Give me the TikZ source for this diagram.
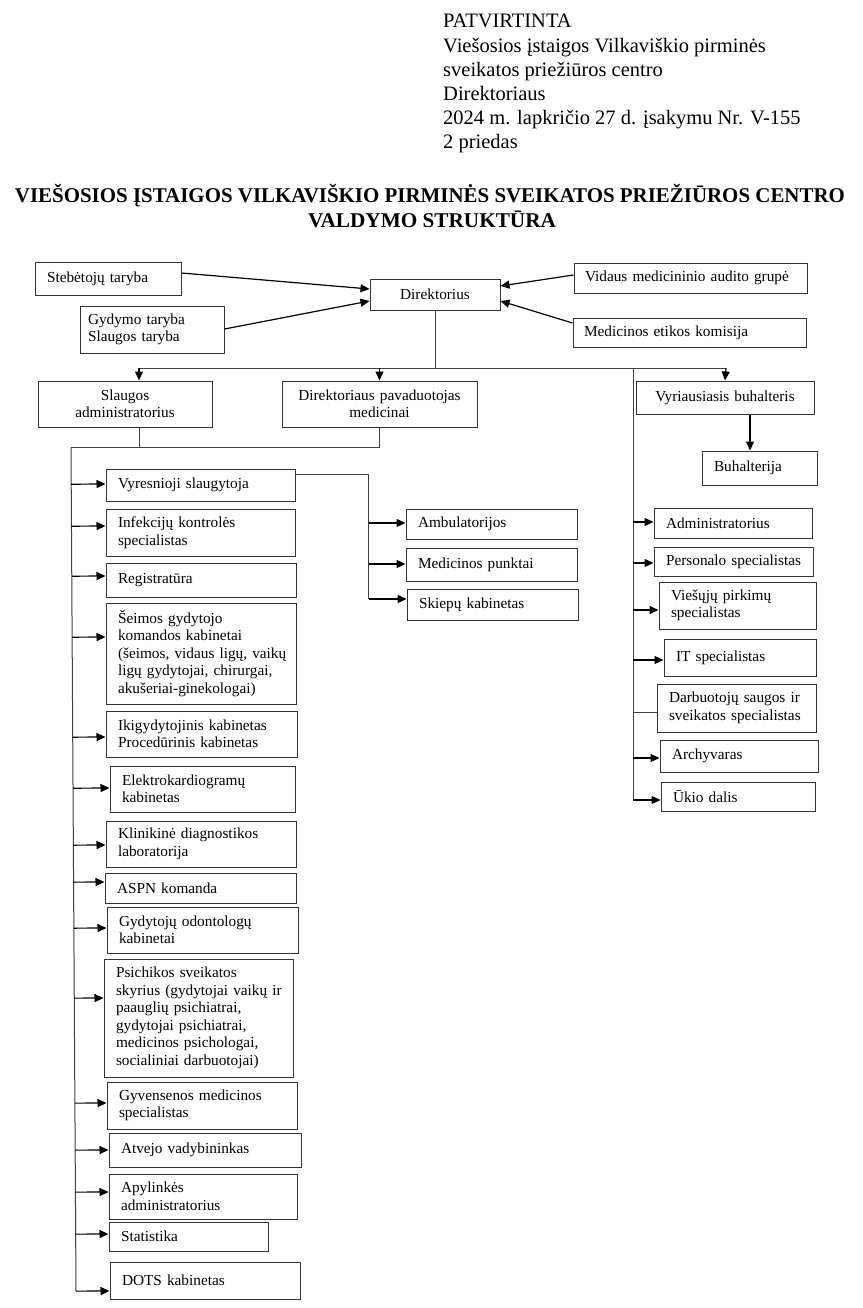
\documentclass[tikz,border=0pt]{standalone}
\usepackage{fontspec}
\usepackage{graphicx}
\setmainfont{Liberation Serif}
\usetikzlibrary{arrows.meta,calc}
\newcommand\boxfont{\fontsize{15.3}{17.5}\selectfont}
\newcommand\hdrfont{\fontsize{20.5}{24}\selectfont}
\newcommand\ttlfont{\bfseries\fontsize{21}{25}\selectfont}
% left-aligned box: [pad]{name}{x1}{y1}{x2}{y2}{text}
\newcommand\lbox[7][12]{%
  \pgfmathsetmacro\obw{#5-#3}\pgfmathsetmacro\obh{#6-#4}%
  \pgfmathsetmacro\obx{(#3+#5)/2}\pgfmathsetmacro\oby{(#4+#6)/2}%
  \def\obpad{#1}%
  \node[box, align=left, minimum width=\obw pt, minimum height=\obh pt,
        text width=\obw pt] (#2) at (\obx,\oby) {\leftskip=\obpad pt\relax #7\par};}
% centred box: {name}{x1}{y1}{x2}{y2}{text}
\newcommand\cbox[6]{%
  \pgfmathsetmacro\obw{#4-#2}\pgfmathsetmacro\obh{#5-#3}%
  \pgfmathsetmacro\obx{(#2+#4)/2}\pgfmathsetmacro\oby{(#3+#5)/2}%
  \node[box, align=center, minimum width=\obw pt, minimum height=\obh pt,
        text width=\obw pt] (#1) at (\obx,\oby) {#6};}
\begin{document}
\begin{tikzpicture}[x=1pt,y=-1pt,
  box/.style={draw=black!80, line width=1pt, inner xsep=0pt, inner ysep=0pt, font=\boxfont},
  hdr/.style={font=\hdrfont, inner sep=0pt, anchor=base west},
  ttl/.style={font=\ttlfont, inner sep=0pt, anchor=base},
  con/.style={draw=black!75, line width=1pt},
  arr/.style={draw=black, line width=1.2pt, -{Triangle[length=9pt,width=8pt]}}]
\fill[white] (0,0) rectangle (862,1308);
\useasboundingbox (0,0) rectangle (862,1308);

% header
\node[hdr] (h1) at (443,28) {PATVIRTINTA};
\node[hdr] (h2) at (443,52.2) {Viešosios įstaigos Vilkaviškio pirminės};
\node[hdr] (h3) at (443,76.4) {sveikatos priežiūros centro};
\node[hdr] (h4) at (443,100.6) {Direktoriaus};
\node[hdr] (h5) at (443,124.8) {2024 m. lapkričio 27 d. įsakymu Nr. V-155};
\node[hdr] (h6) at (443,149) {2 priedas};

% title
\node[ttl] (t1) at (430,202) {\resizebox{830pt}{\height}{VIEŠOSIOS ĮSTAIGOS VILKAVIŠKIO PIRMINĖS SVEIKATOS PRIEŽIŪROS CENTRO}};
\node[ttl] (t2) at (432,228) {\resizebox{248pt}{\height}{VALDYMO STRUKTŪRA}};

% top boxes
\lbox{steb}{35}{262}{181}{295}{Stebėtojų taryba}
\cbox{dir}{370}{279}{500}{310}{Direktorius}
\lbox[11]{vid}{574}{263}{807}{293}{Vidaus medicininio audito grupė}
\lbox[8]{gyd}{80}{306}{224}{353}{Gydymo taryba\\Slaugos taryba}
\lbox[11]{met}{573}{318}{806}{347}{Medicinos etikos komisija}

% second level
\cbox{sla}{38}{381}{212}{427}{Slaugos\\administratorius}
\cbox{pav}{282}{381}{477}{427}{Direktoriaus pavaduotojas\\medicinai}
\cbox{vyr}{636}{381}{814}{414}{Vyriausiasis buhalteris}
\lbox{buh}{702}{451}{817}{485}{Buhalterija}

% left column
\lbox{l1}{106}{469}{295}{501}{Vyresnioji slaugytoja}
\lbox{l2}{106}{509}{295}{556}{Infekcijų kontrolės\\specialistas}
\lbox{l3}{106}{563}{296}{597}{Registratūra}
\lbox{l4}{106}{603}{296}{704}{Šeimos gydytojo\\komandos kabinetai\\(šeimos, vidaus ligų, vaikų\\ligų gydytojai, chirurgai,\\akušeriai-ginekologai)}
\lbox{l5}{106}{711}{297}{757}{Ikigydytojinis kabinetas\\Procedūrinis kabinetas}
\lbox{l6}{110}{766}{295}{812}{Elektrokardiogramų\\kabinetas}
\lbox{l7}{106}{821}{296}{867}{Klinikinė diagnostikos\\laboratorija}
\lbox{l8}{105}{873}{296}{903}{ASPN komanda}
\lbox{l9}{107}{907}{298}{953}{Gydytojų odontologų\\kabinetai}
\lbox{l10}{104}{959}{293}{1077}{Psichikos sveikatos\\skyrius (gydytojai vaikų ir\\paauglių psichiatrai,\\gydytojai psichiatrai,\\medicinos psichologai,\\socialiniai darbuotojai)}
\lbox{l11}{107}{1082}{297}{1129}{Gyvensenos medicinos\\specialistas}
\lbox{l12}{109}{1133}{301}{1167}{Atvejo vadybininkas}
\lbox{l13}{109}{1174}{297}{1219}{Apylinkės\\administratorius}
\lbox{l14}{109}{1222}{268}{1251}{Statistika}
\lbox{l15}{110}{1262}{300}{1299}{DOTS kabinetas}

% middle column
\lbox{m1}{406}{509}{577}{539}{Ambulatorijos}
\lbox{m2}{406}{548}{577}{581}{Medicinos punktai}
\lbox{m3}{407}{589}{578}{620}{Skiepų kabinetas}

% right column
\lbox{r1}{654}{508}{812}{538}{Administratorius}
\lbox{r2}{654}{547}{813}{576}{Personalo specialistas}
\lbox{r3}{659}{582}{816}{629}{Viešųjų pirkimų\\specialistas}
\lbox{r4}{664}{639}{816}{676}{IT specialistas}
\lbox{r5}{657}{684}{816}{732}{Darbuotojų saugos ir\\sveikatos specialistas}
\lbox{r6}{660}{740}{818}{772}{Archyvaras}
\lbox{r7}{661}{782}{815}{811}{Ūkio dalis}

% top connectors
\draw[arr] (steb.east |- 0,273) -- (dir.west |- 0,289);
\draw[arr] (gyd.east |- 0,329) -- (dir.west |- 0,301);
\draw[arr] (vid.west |- 0,275) -- (dir.east |- 0,286);
\draw[arr] (met.west |- 0,323) -- (dir.east |- 0,301);

\coordinate (hl) at (139,368);
\coordinate (hr) at (726,368);
\coordinate (rs) at (633,368);
\draw[con] (dir.south) -- (dir.south |- hl);
\draw[con] (hl) -- (hr);
\draw[arr] (hl) -- (hl |- sla.north);
\draw[arr] (pav.north |- hl) -- (pav.north);
\draw[arr] (hr) -- (vyr.north);
\draw[arr] (vyr.south -| 750,0) -- (buh.north -| 750,0);

% right spine
\draw[con] (rs) -- (rs |- 0,800);
\foreach \n/\y in {r1/522,r2/563,r3/610,r4/660,r6/758,r7/800}
  \draw[arr] (rs |- 0,\y) -- (\n.west |- 0,\y);
\draw[con] (rs |- 0,712) -- (r5.west |- 0,712);

% left spine
\coordinate (sTop) at (71,447);
\coordinate (sBot) at (76,1291);
\draw[con] (sla.south -| hl) -- (hl |- sTop);
\draw[con] (pav.south) -- (pav.south |- sTop);
\draw[con] (sTop) -- (pav.south |- sTop);
\draw[con] (sTop) -- (sBot);
\foreach \n/\y in {l1/484,l2/526,l3/576,l4/637,l5/737,l6/788,l7/845,l8/882,l9/928,l10/998,l11/1103,l12/1150,l13/1192,l14/1234,l15/1291}
  \draw[arr] ($(sTop)!(\n.west |- 0,\y)!(sBot)$) -- (\n.west |- 0,\y);

% middle branch
\coordinate (mTop) at (368.5,474);
\coordinate (mBot) at (368.5,599);
\draw[con] (l1.east |- mTop) -- (mTop) -- (mBot);
\foreach \n/\y in {m1/523,m2/564,m3/599}
  \draw[arr] (mTop |- 0,\y) -- (\n.west |- 0,\y);
\end{tikzpicture}
\end{document}
